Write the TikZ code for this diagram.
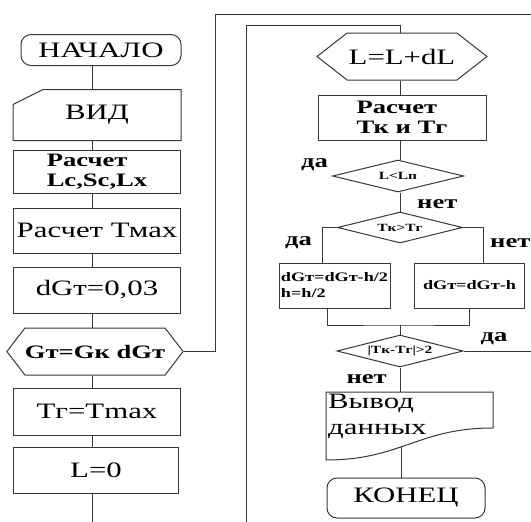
\documentclass[tikz,border=0pt]{standalone}
\usepackage{fontspec}
\setmainfont{Liberation Serif}[FakeStretch=1.4]
\usetikzlibrary{shapes.geometric,shapes.symbols}
\definecolor{liniya}{RGB}{55,55,55}
\tikzset{
  svyaz/.style={draw=liniya,line width=1pt},
  blok/.style={svyaz,inner sep=1pt,minimum width=167pt,minimum height=45pt,font=\fontsize{22}{24}\selectfont},
  term/.style={blok,rounded corners=10pt,minimum height=31pt},
  shest/.style={svyaz,shape=signal,signal to=west and east,inner sep=0pt,minimum height=47pt,font=\fontsize{22}{24}\selectfont},
  romb/.style={svyaz,diamond,aspect=4,inner sep=0pt,minimum height=32pt,font=\bfseries\fontsize{11}{12}\selectfont},
  zhirn/.style={font=\bfseries\fontsize{19}{20}\selectfont,align=left},
  melk/.style={font=\bfseries\fontsize{13}{16}\selectfont,align=left},
  metka/.style={font=\bfseries\fontsize{19}{20}\selectfont,inner sep=0pt}
}
\begin{document}
\begin{tikzpicture}[x=1pt,y=-1pt]
\useasboundingbox (0,0) rectangle (531,522);
% levaya kolonka
\node [term,minimum width=160pt] (start) at (101,50) {НАЧАЛО};
\node [blok,draw=none,minimum height=50pt] (vid) at (97,115) {ВИД};
\draw [svyaz] ([yshift=-15pt]vid.north west) -- ([xshift=30pt]vid.north west) -- (vid.north east) -- (vid.south east) -- (vid.south west) -- cycle;
\node [blok,zhirn,minimum height=43pt] (raschL) at (97,171.5) {Расчет\\Lc,Sc,Lx};
\node [blok] (raschT) at (97,230.5) {Расчет Тмах};
\node [blok,minimum height=46pt] (dgt) at (97,290) {dGт=0,03};
\node [shest,zhirn,minimum width=166pt,signal pointer angle=105] (hexG) at (95,351.5) {Gт=Gк dGт};
\node [blok,minimum height=47pt] (tgt) at (97,411.5) {Tг=Tmax};
\node [blok,minimum width=165pt,minimum height=46pt] (lnul) at (96,470) {L=0};
\coordinate (os) at (92,0);
\coordinate (nizL) at (92,522);
\foreach \a/\b in {start/vid,vid/raschL,raschL/raschT,raschT/dgt,dgt/hexG,hexG/tgt,tgt/lnul}
  \draw [svyaz] (\a.south -| os) -- (\b.north -| os);
\draw [svyaz] (lnul.south -| os) -- (nizL);
% perehod napravo
\coordinate (verh) at (531,14);
\draw [svyaz] (hexG.east) -- ++(32,0) |- (verh);
% pravaya kolonka
\node [shest,minimum width=170pt,signal pointer angle=76] (hexL) at (402,56.5) {L=L+dL};
\node [blok,zhirn,minimum width=168pt] (raschTk) at (402,117.5) {Расчет\\Тк и Тг};
\node [romb,minimum width=131pt] (dLp) at (398,176) {L<Lп};
\node [romb,minimum width=125pt,minimum height=31pt] (dTk) at (400,227.5) {Tк>Tг};
\node [blok,melk,minimum width=111pt] (lbox) at (334.5,285.5) {dGт=dGт-h/2\\h=h/2};
\node [blok,melk,minimum width=110pt] (rbox) at (469.5,285.5) {dGт=dGт-h};
\node [romb,minimum width=126pt] (dDelta) at (400,351) {|Tк-Tг|>2};
\node [anchor=north west,inner sep=2pt,text width=163pt,align=left,font=\fontsize{22}{26}\selectfont] (vyvod) at (326,392) {Вывод\\данных};
\draw [svyaz] (vyvod.north west) -- ([xshift=167pt]vyvod.north west) -- ([xshift=167pt,yshift=-36pt]vyvod.north west)
  .. controls +(-75,0) and +(75,0) .. coordinate[pos=0.56] (vyvOut) ([yshift=-68pt]vyvod.north west) -- cycle;
\node [term,minimum width=158pt,minimum height=40pt] (konec) at (406,498) {КОНЕЦ};
\coordinate (os2) at (400,0);
\foreach \a/\b in {hexL/raschTk,raschTk/dLp,dLp/dTk,dDelta/vyvod}
  \draw [svyaz] (\a.south -| os2) -- (\b.north -| os2);
\draw [svyaz] (vyvOut) -- (vyvOut |- konec.north);
% cikl po L
\coordinate (nizP) at (246,522);
\draw [svyaz] (nizP) |- ([yshift=7pt]hexL.north -| os2) -- (hexL.north -| os2);
% vetvleniya
\draw [svyaz] (dTk.west) -| ([xshift=-12.5pt]lbox.north);
\draw [svyaz] (dTk.east) -| ([xshift=13.5pt]rbox.north);
\coordinate (sliyanie) at (400,325);
\draw [svyaz] ([xshift=-7.5pt]lbox.south) |- (sliyanie) -| (rbox.south);
\draw [svyaz] (sliyanie) -- (dDelta.north);
\coordinate (pravo) at (531,351);
\draw [svyaz] (dDelta.east) -- (pravo);
% metki
\node [metka,anchor=base east] (daA) at ([xshift=-4pt,yshift=9pt]dLp.west) {да};
\node [metka,anchor=base west] (netA) at ([xshift=19pt,yshift=-16pt]dLp.south) {нет};
\node [metka,anchor=base east] (daB) at ([xshift=-25pt,yshift=-18pt]dTk.west) {да};
\node [metka,anchor=base west] (netB) at ([xshift=27pt,yshift=-20pt]dTk.east) {нет};
\node [metka,anchor=base west] (daC) at ([xshift=17pt,yshift=10pt]dDelta.east) {да};
\node [metka,anchor=base east] (netC) at ([xshift=-13pt,yshift=-16pt]dDelta.south) {нет};
\end{tikzpicture}
\end{document}
